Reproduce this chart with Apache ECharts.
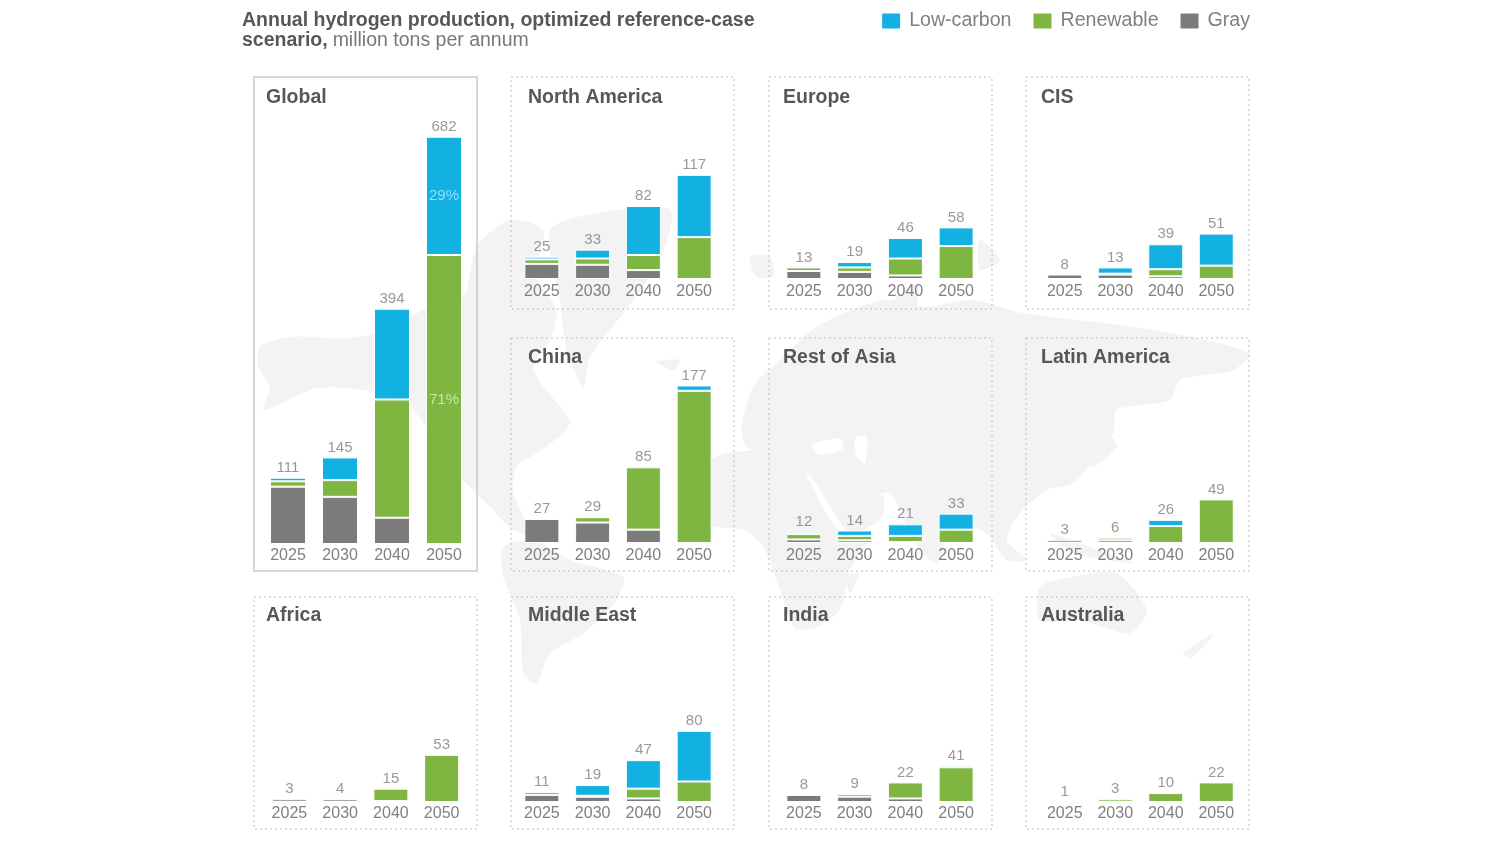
<!DOCTYPE html>
<html>
<head>
<meta charset="utf-8">
<style>html,body{margin:0;padding:0;background:#fff}#chart{width:1510px;height:847px}</style>
<script src="https://cdn.jsdelivr.net/npm/echarts@6/dist/echarts.min.js"></script>
</head>
<body>
<div id="chart"></div>
<script>
var years = ['2025', '2030', '2040', '2050'];
var regions = ['Global', 'North America', 'Europe', 'CIS', 'China', 'Rest of Asia', 'Latin America', 'Africa', 'Middle East', 'India', 'Australia'];
// printed totals above the bars
var totals = [
  [111, 145, 394, 682], [25, 33, 82, 117], [13, 19, 46, 58], [8, 13, 39, 51],
  [27, 29, 85, 177], [12, 14, 21, 33], [3, 6, 26, 49],
  [3, 4, 15, 53], [11, 19, 47, 80], [8, 9, 22, 41], [1, 3, 10, 22]
];
var lowCarbon = [
  [6, 38, 152, 198], [3, 10, 55, 70], [0, 6, 23, 21], [0, 7, 28, 36],
  [0, 0, 0, 6], [2, 6, 13, 18], [0, 0, 7, 0],
  [0, 0, 0, 0], [3, 12, 32, 57], [0, 0, 0, 2], [0, 0, 0, 0]
];
var renewable = [
  [9, 28, 198, 484], [5, 7, 17, 47], [4, 5, 19, 37], [0, 1, 8, 15],
  [0, 6, 70, 171], [6, 5, 7, 15], [0, 3, 19, 49],
  [0, 1, 14, 53], [0, 1, 11, 23], [0, 3, 18, 39], [0, 3, 10, 22]
];
var grayH2 = [
  [96, 79, 44, 0], [17, 16, 10, 0], [9, 8, 4, 0], [5, 5, 3, 0],
  [27, 23, 15, 0], [4, 3, 1, 0], [3, 3, 0, 0],
  [3, 3, 1, 0], [8, 6, 4, 0], [8, 6, 4, 0], [0, 0, 0, 0]
];
var globalShares = { lowCarbon: '29%', renewable: '71%' };

var BLUE = '#13b1e2', GREEN = '#7fb541', GREY = '#7b7b7b', LABEL = '#808080', HEAD = '#575757';
var FONT = '"Liberation Sans", Arial, sans-serif';

// panel boxes: x, y, w, h, baseline y, plot left, plot width, title inset, title top, tick margin
var boxes = [
  [254, 77, 223, 494, 544, 262, 208, 12, 88, 4], [511, 77, 223, 232, 279, 516.5, 203, 17, 88, 5], [769, 77, 223, 232, 279, 778.5, 203, 14, 88, 5], [1026, 77, 223, 232, 279, 1039.5, 202, 15, 88, 5],
  [511, 338, 223, 233, 543, 516.5, 203, 17, 348, 5], [769, 338, 223, 233, 543, 778.5, 203, 14, 348, 5], [1026, 338, 223, 233, 543, 1039.5, 202, 15, 348, 5],
  [254, 597, 223, 232, 802, 264, 203, 12, 606, 4], [511, 597, 223, 232, 802, 516.5, 203, 17, 606, 4], [769, 597, 223, 232, 802, 778.5, 203, 14, 606, 4], [1026, 597, 223, 232, 802, 1039.5, 202, 15, 606, 4]
];

// faint world map behind the panels, rough outlines
function mapLeft(p) { return p.map(function(q) { return [250 + q[0] / 3, 200 + q[1] / 3]; }); }
function mapRight(p) { return p.map(function(q) { return [740 + q[0] / 3, 200 + q[1] / 3]; }); }
var landShapes = [
  mapLeft([[30,440],[120,410],[300,415],[420,385],[520,330],[640,290],[680,140],[780,60],[880,90],[860,230],[920,330],[900,420],[850,500],[880,560],[960,660],[940,700],[860,760],[800,800],[790,880],[840,1000],[790,990],[720,920],[640,840],[560,730],[480,620],[340,570],[200,565],[40,630],[60,560],[25,500]]),
  mapLeft([[900,90],[1040,40],[1260,30],[1230,180],[1120,340],[1020,470],[1000,560],[950,450],[930,300]]),
  mapLeft([[1220,485],[1290,480],[1270,510]]),
  mapLeft([[760,1040],[850,1020],[960,1080],[1120,1130],[1100,1200],[1000,1300],[900,1360],[860,1450],[820,1420],[810,1260],[760,1130]]),
  [[690,480],[720,455],[770,450],[795,458],[810,482],[828,517],[845,535],[870,535],[850,570],[840,610],[815,628],[795,628],[780,590],[765,550],[745,530],[710,525]],
  mapRight([[5,680],[40,560],[110,490],[230,380],[430,300],[560,320],[700,300],[850,340],[1100,370],[1300,400],[1530,460],[1480,510],[1320,540],[1290,600],[1130,630],[1120,700],[1060,780],[1000,850],[920,870],[840,940],[800,1020],[860,1080],[800,1080],[740,1000],[640,970],[590,1090],[520,1020],[450,880],[370,890],[300,850],[215,830],[120,770],[20,740]]),
  mapRight([[215,830],[300,850],[430,890],[420,960],[330,1000],[290,950],[240,870]]),
  mapRight([[30,170],[90,170],[100,230],[50,230]]),
  mapRight([[720,120],[780,180],[720,210]]),
  mapRight([[420,380],[450,310],[530,250],[530,320],[480,400]]),
  mapRight([[930,1000],[1100,1060],[1180,1090],[1000,1060]]),
  mapRight([[1040,780],[1110,710],[1130,740],[1060,800]]),
  mapRight([[900,1160],[1000,1130],[1130,1120],[1220,1230],[1170,1300],[1020,1260],[900,1260]]),
  mapRight([[1330,1360],[1420,1300],[1400,1330],[1350,1375]]),
  mapRight([[320,1130],[355,1120],[330,1180]])
];
// Black Sea and Caspian cut back out of the land
var seaShapes = [
  mapRight([[215,735],[300,715],[310,745],[240,765]]),
  mapRight([[345,715],[380,710],[375,790],[350,770]])
];

var graphics = landShapes.map(function(pts) {
  return { type: 'polygon', z: 0, silent: true, shape: { points: pts, smooth: 0.25 }, style: { fill: '#f3f3f3' } };
}).concat(seaShapes.map(function(pts) {
  return { type: 'polygon', z: 0, silent: true, shape: { points: pts, smooth: 0.25 }, style: { fill: '#fff' } };
}));
var titles = [{
  left: 242, top: 11, padding: 0, textStyle: { rich: {
    b: { fontFamily: FONT, fontSize: 19.5, fontWeight: 'bold', color: HEAD, lineHeight: 20 },
    n: { fontFamily: FONT, fontSize: 19.5, fontWeight: 'normal', color: '#777', lineHeight: 20 }
  } },
  text: '{b|Annual hydrogen production, optimized reference-case}\n{b|scenario,} {n|million tons per annum}'
}];
var grids = [], xAxes = [], yAxes = [], series = [];

function cleanRow(row) {
  return row.map(function(v) { return v === 0 ? null : v; });
}

regions.forEach(function(name, i) {
  var b = boxes[i];
  var isGlobal = i == 0;
  // 0.597 px per unit on Global, 0.89 on the regions
  var yMax = isGlobal ? 700 : 200;
  var plotH = isGlobal ? 418 : 178;
  graphics.push({
    type: 'rect', z: 1, silent: true,
    shape: { x: b[0], y: b[1], width: b[2], height: b[3] },
    style: isGlobal ? { fill: 'none', stroke: '#c9c9c9', lineWidth: 1.5 } : { fill: 'none', stroke: '#bdbdbd', lineWidth: 1, lineDash: [2, 3] }
  });
  titles.push({
    text: name, left: b[0] + b[7], top: b[8], padding: 0,
    textStyle: { fontFamily: FONT, fontSize: 19.5, fontWeight: 'bold', color: HEAD }
  });
  grids.push({ left: b[5], width: b[6], top: b[4] - plotH, height: plotH });
  xAxes.push({
    type: 'category', gridIndex: i, data: years,
    axisLine: { show: false }, axisTick: { show: false },
    axisLabel: { color: LABEL, fontFamily: FONT, fontSize: 16, margin: b[9], interval: 0 }
  });
  yAxes.push({ type: 'value', gridIndex: i, min: 0, max: yMax, show: false });

  var bar = {
    type: 'bar', xAxisIndex: i, yAxisIndex: i, stack: 'h' + i, barWidth: isGlobal ? 36 : 35,
    itemStyle: { borderColor: '#fff', borderWidth: 1 }
  };
  var grayData = cleanRow(grayH2[i]);
  var greenData = cleanRow(renewable[i]);
  var blueData = cleanRow(lowCarbon[i]);
  if (isGlobal) {
    greenData[3] = { value: greenData[3], label: { show: true, position: 'inside', formatter: globalShares.renewable, color: '#cbe3a9', fontFamily: FONT, fontSize: 15 } };
    blueData[3] = { value: blueData[3], label: { show: true, position: 'inside', formatter: globalShares.lowCarbon, color: '#95def6', fontFamily: FONT, fontSize: 15 } };
  }
  series.push(Object.assign({}, bar, { name: 'Gray', data: grayData, color: GREY }));
  series.push(Object.assign({}, bar, { name: 'Renewable', data: greenData, color: GREEN }));
  series.push(Object.assign({}, bar, { name: 'Low-carbon', data: blueData, color: BLUE }));

  // invisible points on top of each stack carry the printed totals
  var tops = years.map(function(y, k) { return grayH2[i][k] + renewable[i][k] + lowCarbon[i][k]; });
  series.push({
    type: 'scatter', name: 'Total', xAxisIndex: i, yAxisIndex: i, data: tops, symbolSize: 1, z: 5, silent: true,
    itemStyle: { color: 'rgba(0,0,0,0)' },
    label: {
      show: true, position: 'top', distance: 2, color: LABEL, fontFamily: FONT, fontSize: 15,
      formatter: function(p) { return totals[i][p.dataIndex]; }
    }
  });
});

var chart = echarts.init(document.getElementById('chart'));
chart.setOption({
  animation: false,
  backgroundColor: '#fff',
  title: titles,
  legend: {
    data: ['Low-carbon', 'Renewable', 'Gray'], right: 255, top: 6, itemWidth: 20, itemHeight: 17, itemGap: 20,
    icon: 'rect', textStyle: { color: '#808080', fontFamily: FONT, fontSize: 19.6, padding: [0, 0, 0, 3] }, selectedMode: false
  },
  graphic: { elements: graphics },
  grid: grids,
  xAxis: xAxes,
  yAxis: yAxes,
  series: series
});
</script>
</body>
</html>
